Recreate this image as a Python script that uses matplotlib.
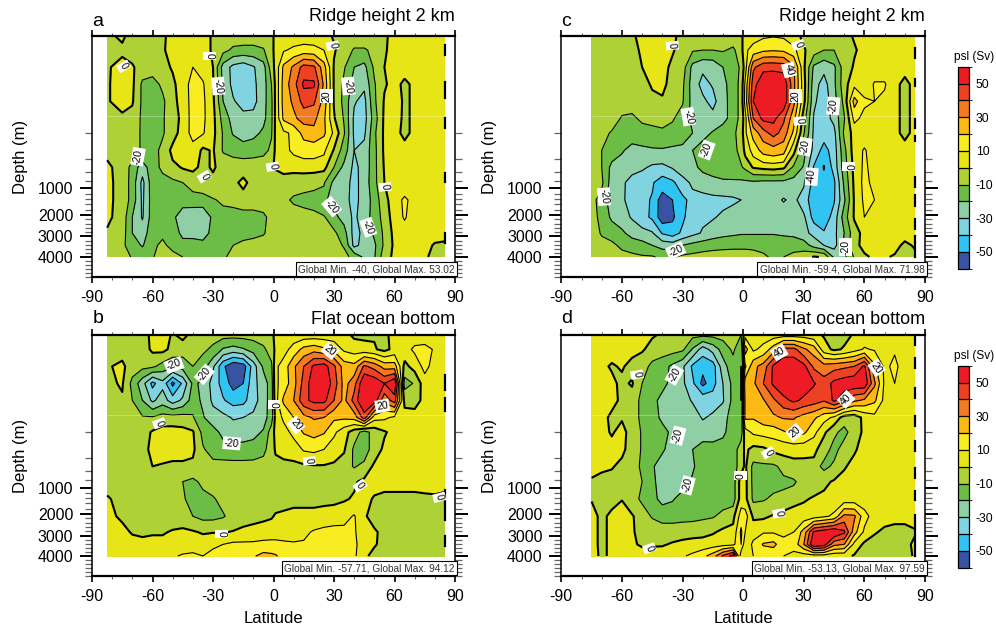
"""Meridional overturning streamfunction panels, depth vs latitude."""
import numpy as np
import matplotlib
matplotlib.use("Agg")
import matplotlib.pyplot as plt
from matplotlib.cm import ScalarMappable
from matplotlib.colors import BoundaryNorm, ListedColormap

plt.rcParams["font.family"] = ["Liberation Sans", "DejaVu Sans"]
plt.rcParams["axes.unicode_minus"] = False
plt.rcParams["contour.negative_linestyle"] = "solid"

W, H = 996, 629

LATS_AB = [-82.5, -75, -70, -65, -60, -55, -50, -45, -40, -35, -30, -25, -20, -15, -10, -5, -1,
           1, 5, 10, 15, 20, 25, 30, 35, 40, 45, 50, 55, 60, 65, 70, 75, 80, 85]
LATS_CD = LATS_AB[1:]
DEPTHS = [0, 30, 65, 100, 135, 170, 200, 400, 640, 900, 1430, 2100, 2840, 3430, 4000]

PSI_A = [
    [-2, 2, -4, -5, -4, -1, 2, 4, 4, 3, -1, -3, -4, -4, -4, -3, -1, 1, 3, 4, 4, 4, 3, -1, -3, -4, -4, -4, -1, 2, 3, 4, 4, 4, 4],
    [-3, -2, -4, -5, -4, -1, 3, 5, 5, 3, -1, -7, -12, -13, -13, -11, -2, 2, 9, 12, 14, 13, 10, 1, -5, -11, -11, -8, -1, 3, 4, 4, 4, 4, 4],
    [-1, 3, 1, -4, -5, -3, 1, 5, 10, 6, 0, -24, -33, -36, -31, -24, -5, 3, 22, 32, 44, 42, 24, -1, -9, -20, -23, -8, 0, 3, 4, 4, 4, 4, 4],
    [-1, 4, 2, -12, -14, -8, -2, 5, 14, 11, 1, -22, -33, -38, -32, -25, -10, 2, 24, 36, 52, 52, 28, -1, -12, -24, -28, -11, -1, 3, -2, 2, 4, 4, 4],
    [-1, 4, 1, -12, -14, -12, -3, 4, 14, 12, 2, -20, -29, -34, -33, -24, -12, 2, 24, 32, 44, 42, 26, -1, -13, -29, -33, -12, 1, 9, -3, 3, 4, 4, 4],
    [-1, -2, -3, -12, -13, -11, -5, 3, 14, 12, 3, -14, -24, -27, -27, -23, -12, 2, 22, 28, 34, 33, 22, 1, -11, -32, -34, -15, 2, 7, -3, 3, 4, 4, 4],
    [-2, -3, -4, -12, -13, -11, -5, 5, 13, 11, 3, -11, -21, -26, -23, -18, -11, 2, 8, 12, 24, 27, 22, 8, -9, -32, -32, -12, 2, 4, -3, 3, 4, 4, 4],
    [-1, -3, -4, -12, -13, -8, 3, 10, 7, -2, 1, -11, -13, -14, -14, -13, -8, 2, 7, 12, 14, 14, 12, -1, -15, -30, -27, -13, 2, 4, 4, 4, 4, 4, 4],
    [1, -2, -14, -25, -14, -8, -3, 1, 2, -2, 1, -3, -4, -4, -3, -2, -1, 1, 4, 3, 4, 4, 3, -10, -23, -32, -27, -13, 1, 4, 4, 4, 4, 4, 4],
    [2, -3, -14, -33, -14, -13, -12, -10, -5, -4, -2, -2, -2, 2, -3, -4, -5, -5, -5, -5, -6, -7, -9, -23, -26, -33, -26, -13, 0, 4, 4, 4, 4, 4, 4],
    [2, -3, -14, -32, -15, -14, -15, -16, -17, -15, -11, -8, -7, -6, -6, -5, -5, -5, -7, -12, -14, -16, -18, -24, -27, -33, -26, -16, -3, 5, 12, 6, 4, 4, 4],
    [2, -4, -20, -31, -15, -14, -18, -25, -24, -27, -18, -14, -14, -13, -13, -12, -7, -5, -4, -4, -5, -6, -9, -17, -24, -32, -25, -16, -6, 5, 11, 5, 4, 4, 4],
    [-1, -5, -20, -25, -14, -12, -14, -23, -24, -27, -15, -14, -14, -13, -13, -11, -6, -5, -4, -4, -5, -6, -7, -8, -16, -34, -27, -18, -8, 3, 6, 5, 4, 4, 4],
    [-3, -8, -15, -21, -12, -8, -13, -16, -15, -15, -13, -12, -10, -8, -6, -5, -4, -4, -4, -4, -5, -5, -6, -6, -11, -33, -26, -22, -8, 2, 4, 4, 3, -1, -2],
    [-4, -5, -11, -13, -11, -4, -7, -10, -13, -14, -13, -11, -8, -5, -4, -3, -3, -3, -3, -4, -4, -5, -5, -6, -7, -13, -22, -21, -4, 2, 3, 3, 1, -2, -2],
]
PSI_B = [
    [-5, -5, -5, -5, 3, 4, -1, 3, -3, -5, -6, -6, -6, -6, -6, -4, -1, 1, 3, 4, 4, 4, 4, 4, 3, -2, -2, -1, -2, 3, 4, 4, 4, 4, 4],
    [-5, -4, -5, -5, 2, 3, -3, -5, -7, -8, -12, -21, -24, -21, -16, -12, -5, 2, 6, 14, 23, 26, 22, 17, 8, 5, 3, 1, -3, 3, 6, 12, 13, 9, 4],
    [-1, 2, -5, -7, -8, -14, -18, -16, -10, -15, -28, -48, -58, -55, -35, -18, -12, 8, 14, 28, 40, 52, 55, 42, 25, 23, 42, 36, 26, 25, -3, 4, 13, 6, 4],
    [-2, 1, -13, -26, -43, -33, -53, -38, -18, -22, -34, -44, -54, -50, -33, -25, -15, 8, 14, 26, 44, 56, 58, 46, 26, 36, 60, 58, 50, 60, -14, -9, 6, 5, 4],
    [-3, -1, -10, -20, -32, -25, -35, -28, -15, -22, -32, -39, -44, -43, -34, -25, -15, 6, 22, 30, 47, 53, 53, 40, 27, 44, 62, 56, 33, 45, -3, -4, 3, 4, 4],
    [-3, -4, -5, -9, -9, -6, -6, -6, -9, -19, -26, -27, -31, -30, -28, -24, -15, 3, 12, 20, 27, 31, 30, 22, 22, 24, 45, 14, 12, 8, 4, 4, 4, 4, 4],
    [-3, -4, -4, -4, 1, 4, 4, 3, 1, -13, -16, -23, -25, -24, -23, -19, -5, 3, 6, 13, 21, 24, 21, 12, 4, -5, -14, -6, -1, 3, 4, 4, 4, 4, 4],
    [-3, -4, -4, -4, 3, 4, 5, 5, 2, -9, -14, -16, -17, -17, -16, -13, -4, 1, 3, 5, 11, 12, 10, 5, 1, -12, -15, -5, 2, 4, 4, 4, 4, 4, 4],
    [-3, -4, -4, -3, 0, -1, -3, -3, -3, -6, -6, -5, -5, -5, -5, -4, -3, -3, -3, -3, -2, -1, -1, -2, -5, -11, -7, 2, 4, 4, 4, 4, 4, 4, 4],
    [-3, -4, -5, -5, -5, -5, -6, -10, -12, -8, -6, -5, -5, -5, -5, -5, -5, -5, -5, -5, -6, -5, -5, -4, -3, -1, 2, 3, 3, 3, 3, 3, 3, 2, 1],
    [1, -3, -5, -6, -6, -6, -7, -9, -13, -14, -11, -7, -6, -5, -4, -4, -4, -4, -4, -3, -3, -3, -2, -2, -1, 1, 3, -1, -3, -3, -3, -3, -2, -1, -1],
    [3, -2, -4, -5, -6, -6, -6, -6, -10, -13, -13, -11, -6, -4, -3, -2, -1, 1, 2, 3, 3, 3, 3, 4, 6, 11, 1, -3, -4, -4, -4, -4, -4, -4, -3],
    [4, 3, -1, -2, -1, -1, 1, 2, 1, -1, -0.5, -0.5, 0.5, 2, 3, 4, 5, 5, 5, 6, 8, 11, 13, 14, 13, 11, 5, 1, -2, -3, -4, -4, -4, -4, -4],
    [5, 5, 4, 3, 3, 3, 4, 5, 5, 5, 8, 10, 12, 12, 12, 13, 13, 13, 12, 11, 11, 12, 13, 14, 13, 12, 5, 1, -3, -4, -4, -4, -4, -4, -4],
    [6, 6, 6, 6, 6, 7, 9, 11, 12, 10, 13, 14, 15, 16, 19, 23, 22, 21, 17, 14, 14, 14, 14, 14, 13, 12, 2, -3, -4, -4, -4, -4, -4, -4, -4],
]
PSI_C = [
    [-4, -5, -5, -5, -1, 2, 4, 5, 2, -3, -4, -5, -5, -4, -3, -1, 2, 5, 8, 9, 8, 3, -2, -4, -4, -4, -3, 1, 3, 4, 4, 4, 4, 4],
    [-4, -5, -5, -5, -2, 1, 5, 5, 1, -4, -9, -10, -10, -9, -12, -4, 8, 14, 18, 19, 18, 13, 1, -5, -10, -10, -7, -1, 3, 4, 4, 4, 4, 4],
    [-4, -5, -5, -5, -4, 0, 4, 3, -2, -5, -23, -28, -27, -20, -16, -8, 5, 38, 47, 47, 46, 32, 2, -22, -27, -22, -5, 1, 3, 4, 4, 4, 4, 4],
    [-4, -5, -5, -5, -5, -3, 1, 2, -3, -8, -25, -33, -29, -23, -15, -7, 12, 46, 58, 60, 58, 33, 4, -26, -34, -22, -4, 7, 3, 11, 11, 3, -3, 3],
    [-4, -5, -5, -5, -5, -4, -2, -1, -4, -9, -24, -28, -33, -24, -15, -7, 14, 50, 62, 64, 58, 33, 3, -28, -36, -24, -7, 24, 12, 10, 8, 3, -3, 3],
    [-5, -5, -5, -11, -12, -8, -6, -6, -9, -14, -23, -25, -27, -24, -15, -7, 6, 40, 53, 53, 42, 24, -5, -31, -35, -27, -11, 13, 7, 4, 4, 3, -3, 3],
    [-5, -7, -11, -14, -15, -14, -14, -12, -13, -14, -20, -24, -19, -14, -12, -6, 8, 24, 36, 44, 36, 18, -9, -32, -35, -33, -8, 4, 4, 4, 4, 3, -3, 3],
    [-4, -10, -15, -19, -23, -22, -21, -21, -22, -23, -20, -15, -14, -13, -13, -7, 3, 14, 24, 26, 24, 3, -17, -33, -44, -35, -13, 5, 11, 5, 4, 4, 4, 4],
    [-5, -10, -23, -25, -26, -28, -32, -33, -29, -24, -23, -17, -14, -13, -12, -11, -8, 1, 3, 4, 2, -12, -21, -41, -51, -36, -15, 3, 12, 6, 4, 4, 4, 4],
    [-5, -8, -25, -28, -34, -37, -39, -45, -42, -34, -28, -26, -24, -22, -22, -22, -22, -22, -23, -23, -23, -24, -29, -44, -46, -42, -18, 2, 13, 7, 4, 4, 4, 4],
    [-6, -15, -25, -28, -35, -37, -41, -56, -50, -43, -36, -34, -33, -33, -32, -30, -29, -26, -24, -26, -31, -27, -36, -45, -46, -41, -22, 1, 12, 10, 4, 4, 4, 4],
    [-6, -13, -22, -26, -31, -36, -42, -56, -52, -42, -34, -32, -31, -28, -25, -24, -24, -23, -23, -23, -23, -24, -28, -44, -46, -36, -15, 1, 10, 5, 4, 4, 4, 4],
    [-5, -11, -14, -18, -24, -27, -29, -41, -45, -38, -33, -29, -25, -23, -22, -21, -21, -21, -21, -21, -22, -23, -27, -33, -39, -33, -20, -4, 3, 4, 4, 4, 4, 4],
    [-5, -7, -8, -12, -14, -16, -20, -24, -25, -20, -17, -15, -14, -13, -12, -12, -12, -12, -12, -12, -13, -13, -15, -24, -30, -34, -18, -2, 2, 4, 4, 3, -2, 1],
    [-4, -4, -5, -7, -8, -9, -9, -12, -11, -8, -7, -6, -5, -5, -6, -6, -6, -7, -9, -11, -10, -8, -5, 1, -1, -22, -23, -9, -1, 1, 1, -1, -3, -2],
]
PSI_D = [
    [4, 4, 4, 3, 3, 2, 1, -1, -4, -6, -7, -7, -7, -6, -4, -10, 6, 3, 5, 5, 5, 5, 5, 3, -1, -3, -3, 1, 4, 4, 4, 4, 4, 4],
    [3, 3, 4, 4, 3, 1, -3, -5, -6, -8, -21, -35, -26, -16, -8, -18, 25, 8, 13, 25, 43, 43, 32, 25, 4, -2, 1, 6, 11, 9, 8, 9, 5, 4],
    [2, 2, -1, 1, -3, -5, -13, -16, -22, -28, -42, -47, -45, -24, -14, -20, 8, 27, 34, 52, 58, 58, 53, 38, 34, 36, 38, 40, 52, 22, 8, 12, 6, 4],
    [3, 3, 2, -2, 1, -10, -14, -17, -23, -28, -38, -53, -44, -30, -17, -20, 26, 28, 40, 52, 58, 58, 56, 51, 44, 53, 56, 58, 58, 32, 8, 10, 5, 4],
    [3, 3, 3, -2, -4, -13, -17, -23, -25, -26, -31, -33, -35, -31, -17, -20, 22, 25, 29, 38, 47, 52, 48, 45, 41, 52, 43, 32, 28, 22, 7, 5, 4, 4],
    [3, 3, -2, -1, -4, -13, -16, -22, -24, -24, -25, -31, -28, -24, -15, -18, 22, 21, 26, 28, 31, 31, 26, 22, 14, 8, -5, -6, 3, 7, 4, 4, 4, 4],
    [3, 3, -1, 3, -4, -11, -14, -17, -22, -24, -25, -25, -24, -22, -15, -15, 6, 12, 14, 15, 19, 23, 22, 13, 2, -8, -13, -5, 2, 4, 4, 4, 4, 4],
    [3, 3, 3, 2, -4, -11, -15, -19, -23, -24, -20, -16, -17, -16, -15, -5, 2, -3, -2, 2, 3, 4, 3, 3, -6, -13, -6, -1, 3, 4, 4, 4, 4, 4],
    [3, 2, 1, -3, -5, -12, -19, -24, -25, -24, -21, -16, -15, -15, -15, -5, 2, -13, -12, -12, -7, -5, -4, -5, -13, -8, -1, 3, 4, 4, 4, 4, 4, 4],
    [-1, -3, -4, -5, -7, -10, -18, -24, -25, -23, -19, -16, -15, -15, -15, 5, 3, -13, -13, -13, -12, -11, -7, -4, -2, 1, 3, 4, 4, 4, 4, 4, 4, 4],
    [-0.5, -3, -3, -0.5, -6, -12, -17, -23, -21, -16, -15, -15, -15, -15, -15, 5, 3, -12, -11, -8, -6, -3, -1, 1, 3, 4, 4, 4, 4, 4, 4, 4, 4, 4],
    [3, -2, 2, 5, 1, -5, -11, -14, -14, -13, -13, -12, -11, -7, -3, 15, 15, -2, -2, 1, 3, 4, 4, 5, 8, 12, 33, 32, 14, 5, 4, 4, 4, 4],
    [3, -2, 2, 4, 1, -3, -4, -5, -5, -5, -4, -3, -1, 2, 3, 22, 10, 6, 9, 9, 8, 10, 24, 52, 56, 60, 52, 24, 8, 1, -2, -4, -4, -1],
    [3, -2, 2, 3, 1, -1, -1, -1, 1, 3, 4, 4, 5, 6, 7, 20, 3, 12, 21, 23, 13, 13, 30, 60, 55, 33, 30, 7, -2, -4, -4, -4, -3, 2],
    [2, -1, 1, 3, 3, 3, 4, 5, 6, 9, 12, 17, 25, 42, 55, 2, 3, 10, 13, 12, 10, 8, 5, 5, 5, 3, 3, -1, -4, -4, -4, -4, -3, 1],
]

LEVELS = [-50, -40, -30, -20, -10, 0, 10, 20, 30, 40, 50]
BAND_COLORS = ["#3953a4", "#31c4f3", "#80d3e0", "#8fcfa6", "#6bbd45", "#aed136",
               "#e8e516", "#f9ec20", "#fdb913", "#f37a20", "#ee4023", "#ed1c24"]
TICK_DEPTHS = [1000, 2000, 3000, 4000]
GRAY_DEPTHS = [200, 500, 720, 870] + list(range(1200, 5001, 200))

# zoom-crop pixels -> depth axis, the axis is neither linear nor log
MAP_DEPTH = [0, 200, 500, 1000, 2000, 3000, 4000, 5000]
MAP_PX = [35.5, 133, 159, 188.5, 215, 236.5, 257, 277]


def fwd(d):
    return np.interp(d, MAP_DEPTH, MAP_PX)


def inv(p):
    return np.interp(p, MAP_PX, MAP_DEPTH)


cmap = ListedColormap(BAND_COLORS[1:-1])
cmap.set_under(BAND_COLORS[0])
cmap.set_over(BAND_COLORS[-1])
norm = BoundaryNorm(LEVELS, cmap.N)


def add_axes_px(fig, left, right, top, bottom):
    return fig.add_axes([left / W, 1 - bottom / H, (right - left) / W, (bottom - top) / H])


def draw_panel(fig, box, lats, psi, letter, title, info, bottom_row):
    left, right, top, bottom = box
    ax = add_axes_px(fig, left, right, top, bottom)
    ax.set_yscale("function", functions=(fwd, inv))
    z = np.array(psi, dtype=float)
    ax.contourf(lats, DEPTHS, z, levels=LEVELS, cmap=cmap, norm=norm, extend="both")
    ax.contour(lats, DEPTHS, z, levels=[l for l in LEVELS if l != 0], colors="k", linewidths=0.8)
    ax.contour(lats, DEPTHS, z, levels=[0], colors="k", linewidths=1.5)
    ax.plot([lats[0], lats[-1]], [165, 165], color="white", alpha=0.35, lw=0.6)

    ax.set_xlim(-90, 90)
    ax.set_ylim(5000, 0)
    ax.set_xticks(np.arange(-90, 91, 30))
    ax.set_xticks(np.arange(-90, 91, 10), minor=True)
    ax.set_yticks(TICK_DEPTHS)
    ax.set_yticklabels([str(d) for d in TICK_DEPTHS])
    ax.set_yticks(GRAY_DEPTHS, minor=True)
    ax.tick_params(axis="x", which="major", top=True, length=4.5, width=1.2, labelsize=11.5, pad=5)
    ax.tick_params(axis="x", which="minor", top=True, length=2.2, width=0.7, color="#555555")
    ax.tick_params(axis="y", which="major", right=True, length=9, width=1.4, labelsize=11.5, pad=4.5)
    ax.tick_params(axis="y", which="minor", right=True, length=5, width=0.9, color="#666666")
    for side in ("top", "bottom"):
        ax.spines[side].set_linewidth(1.6)
    for side in ("left", "right"):
        ax.spines[side].set_linewidth(1.1)

    letter_y = top - 11.7 if bottom_row else top - 9.5
    title_y = top - 11 if bottom_row else top - 14.5
    fig.text((left + 0.3) / W, 1 - letter_y / H, letter, fontsize=14, va="baseline")
    fig.text(right / W, 1 - title_y / H, title, fontsize=13, ha="right", va="baseline")
    fig.text((left - 72) / W, 1 - (top + 121) / H, "Depth (m)", fontsize=12, rotation=90,
             ha="center", va="center")
    if bottom_row:
        ax.set_xlabel("Latitude", fontsize=12, labelpad=5)
    ax.text(0.9985, 0.012, info, transform=ax.transAxes, ha="right", va="bottom", fontsize=7.3,
            color="#333333", bbox=dict(fc="white", ec="k", lw=0.8, pad=1.6), zorder=6)
    return ax


def contour_labels(fig, labels, off_x, off_y):
    for zx, zy, txt, rot in labels:
        fig.text((off_x + zx / 3) / W, 1 - (off_y + zy / 3) / H, txt, fontsize=7.5, rotation=rot,
                 ha="center", va="center", bbox=dict(fc="white", ec="none", pad=1.0), zorder=8)


def dashes(fig, box, segments):
    left, right, top, bottom = box
    x = left + (85 + 90) / 180 * (right - left)
    for y0, y1 in segments:
        line = plt.Line2D([x / W, x / W], [1 - (top + y0 / 3) / H, 1 - (top + y1 / 3) / H],
                          transform=fig.transFigure, color="k", lw=1.6, zorder=7)
        fig.add_artist(line)


def colorbar(fig, top):
    cax = add_axes_px(fig, 957.7, 969, top, top + 202)
    bounds = [-60] + LEVELS + [60]
    sm = ScalarMappable(norm=BoundaryNorm(bounds, len(BAND_COLORS)), cmap=ListedColormap(BAND_COLORS))
    cb = fig.colorbar(sm, cax=cax, spacing="uniform", drawedges=True, ticks=[-50, -30, -10, 10, 30, 50])
    cb.ax.tick_params(length=0, labelsize=8.8, pad=5)
    cb.outline.set_linewidth(0.9)
    cb.dividers.set_linewidth(0.9)
    fig.text(974.5 / W, 1 - (top - 10) / H, "psl (Sv)", fontsize=8.6, ha="center", va="center")


def main():
    fig = plt.figure(figsize=(W / 100, H / 100), dpi=100)
    box_a = (92, 455, 35.5, 277)
    box_c = (561.3, 925, 35.5, 277)
    box_b = (92, 455, 334.7, 576)
    box_d = (561.3, 925, 334.7, 576)

    draw_panel(fig, box_a, LATS_AB, PSI_A, "a", "Ridge height 2 km", "Global Min. -40, Global Max. 53.02", False)
    draw_panel(fig, box_b, LATS_AB, PSI_B, "b", "Flat ocean bottom", "Global Min. -57.71, Global Max. 94.12", True)
    draw_panel(fig, box_c, LATS_CD, PSI_C, "c", "Ridge height 2 km", "Global Min. -59.4, Global Max. 71.98", False)
    draw_panel(fig, box_d, LATS_CD, PSI_D, "d", "Flat ocean bottom", "Global Min. -53.13, Global Max. 97.59", True)

    contour_labels(fig, [(371, 199, "0", -60), (628, 168, "0", -90), (655, 258, "-20", -85), (998, 137, "0", -80),
                         (1045, 258, "-20", -85), (980, 288, "20", 90), (414, 470, "-20", 80), (818, 500, "0", -80),
                         (613, 530, "0", -60), (1155, 561, "0", -85), (995, 620, "-20", -50), (1105, 682, "-20", -70)], 0, 0)
    contour_labels(fig, [(547, 137, "0", -85), (925, 135, "0", -70), (897, 210, "40", -75), (917, 288, "20", 90),
                         (595, 350, "-20", -80), (1030, 318, "-20", 85), (930, 363, "0", -85), (650, 450, "-20", 70),
                         (945, 440, "-20", 80), (1075, 500, "0", -90), (965, 530, "-40", 85), (342, 590, "-20", -85),
                         (1067, 742, "-20", 90), (557, 752, "-20", 25)], 490, 0)
    contour_labels(fig, [(522, 165, "-20", 20), (613, 193, "-20", 50), (990, 122, "20", -40), (822, 284, "0", -90),
                         (1147, 288, "20", 10), (478, 340, "0", -70), (888, 345, "20", -50), (695, 400, "-20", -5),
                         (928, 453, "0", -85), (1080, 527, "0", -55), (1318, 562, "0", -75), (665, 672, "0", -90)], 0, 310)
    contour_labels(fig, [(553, 195, "-20", 60), (441, 194, "0", -80), (868, 127, "40", 30), (1160, 173, "20", -55),
                         (1068, 268, "40", 45), (914, 367, "20", 40), (564, 377, "-20", 75), (835, 428, "0", -60),
                         (752, 497, "0", 90), (592, 526, "-20", 75), (867, 610, "0", -80), (478, 715, "0", -70)], 490, 310)

    dashes(fig, box_a, [(28, 58), (138, 188), (248, 278), (413, 438), (593, 623)])
    dashes(fig, box_c, [(38, 68), (130, 150), (250, 278), (300, 315), (425, 455), (480, 510), (550, 580), (600, 665)])
    dashes(fig, box_b, [(120, 166), (190, 230), (465, 555), (605, 635)])
    dashes(fig, box_d, [(5, 30), (70, 100), (160, 190), (245, 275), (320, 350), (400, 430), (470, 495), (540, 665)])

    colorbar(fig, 66.7)
    colorbar(fig, 365.7)
    fig.savefig("out.png", dpi=100)
    plt.close(fig)


if __name__ == "__main__":
    main()
